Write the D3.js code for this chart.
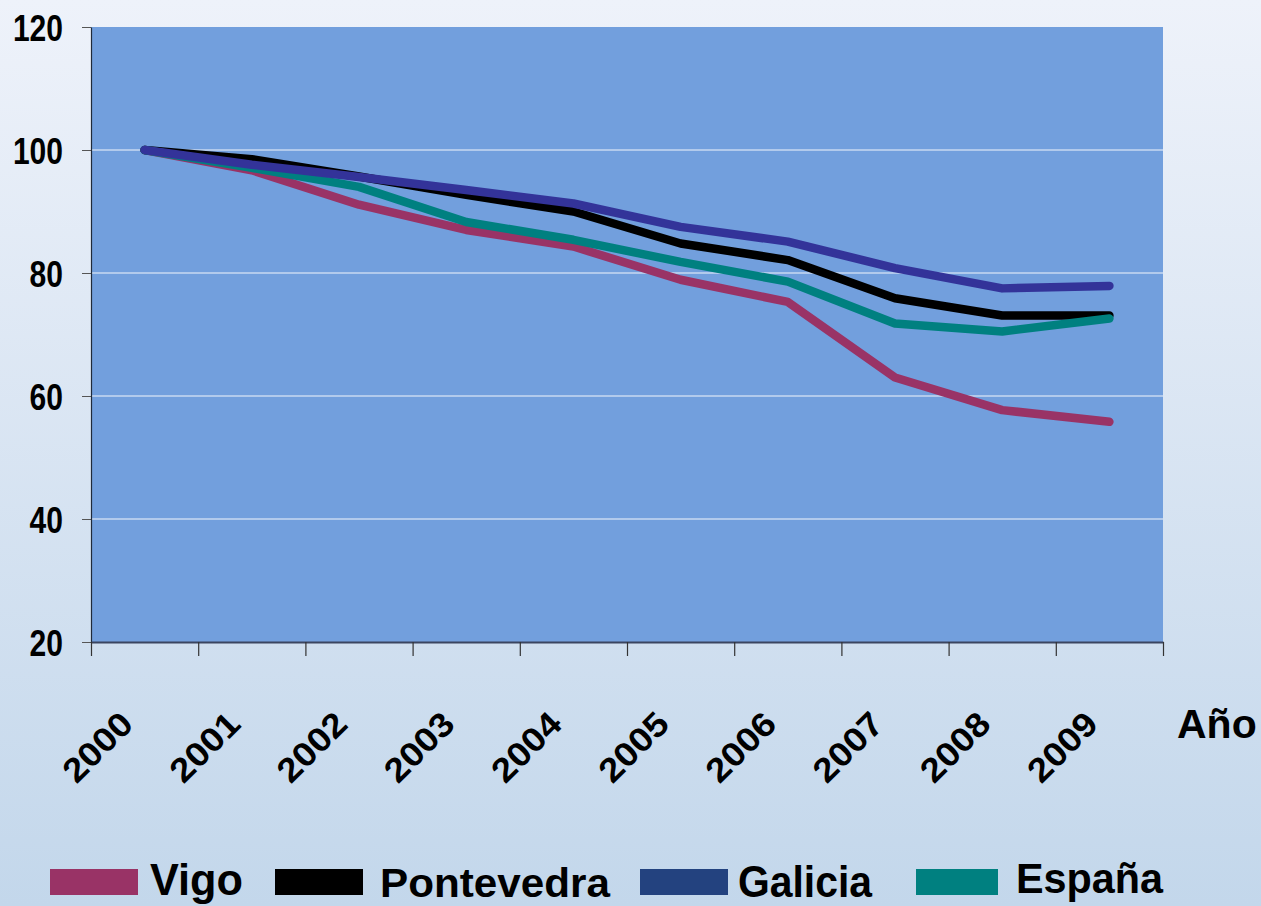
<!DOCTYPE html>
<html>
<head>
<meta charset="utf-8">
<script src="https://cdn.jsdelivr.net/npm/d3@7"></script>
<style>
  html, body { margin: 0; padding: 0; }
  body { width: 1261px; height: 906px; overflow: hidden; }
  svg { display: block; }
</style>
</head>
<body>
<svg id="chart" width="1261" height="906"></svg>
<script>
// ---- data ----
const years = ["2000","2001","2002","2003","2004","2005","2006","2007","2008","2009"];
const vigo       = [100, 96.7, 91.1, 87.0, 84.3, 78.9, 75.3, 63.0, 57.7, 55.8];
const pontevedra = [100, 98.5, 95.7, 92.7, 90.0, 84.8, 82.1, 75.9, 73.1, 73.1];
const galicia    = [100, 97.6, 95.6, 93.5, 91.3, 87.5, 85.1, 80.8, 77.5, 77.9];
const espana     = [100, 97.1, 94.0, 88.3, 85.4, 81.8, 78.6, 71.8, 70.5, 72.6];
const seriesNames = ["Vigo", "Pontevedra", "Galicia", "España"];
const yTicks = [20, 40, 60, 80, 100, 120];
const xAxisTitle = "Año";

// ---- layout ----
const svg = d3.select("#chart");
const W = 1261, H = 906;
const plot = { left: 91, right: 1163, top: 27, bottom: 642 };

const defs = svg.append("defs");
const grad = defs.append("linearGradient").attr("id", "bg").attr("x1", 0).attr("y1", 0).attr("x2", 0).attr("y2", 1);
grad.append("stop").attr("offset", "0%").attr("stop-color", "#EEF2FA");
grad.append("stop").attr("offset", "100%").attr("stop-color", "#C3D7EB");
svg.append("rect").attr("width", W).attr("height", H).attr("fill", "url(#bg)");

const x = d3.scaleBand().domain(years).range([plot.left, plot.right]).padding(0);
const xEdge = d3.scaleLinear().domain([0, years.length]).range([plot.left, plot.right]);
const y = d3.scaleLinear().domain([20, 120]).range([plot.bottom, plot.top]);

// plot area
svg.append("rect")
  .attr("x", plot.left).attr("y", plot.top)
  .attr("width", plot.right - plot.left).attr("height", plot.bottom - plot.top)
  .attr("fill", "#729FDD");

// gridlines
svg.append("g").selectAll("line")
  .data(yTicks.filter(d => d > 20 && d < 120))
  .join("line")
  .attr("x1", plot.left).attr("x2", plot.right)
  .attr("y1", d => y(d)).attr("y2", d => y(d))
  .attr("stroke", "#F2F5FB").attr("stroke-width", 1.2);

const narrow = "'Liberation Sans Narrow','Arial Narrow','Liberation Sans',Arial,sans-serif";
const normal = "'Liberation Sans',Arial,sans-serif";

// y axis
const yAxis = svg.append("g").attr("transform", `translate(${plot.left},0)`)
  .call(d3.axisLeft(y).tickValues(yTicks).tickSize(9).tickSizeOuter(0).tickPadding(19));
yAxis.select(".domain").attr("stroke", "#1f2a3a").attr("stroke-width", 1.2);
yAxis.selectAll(".tick line").attr("stroke", "#555");
yAxis.selectAll(".tick text")
  .attr("font-family", narrow).attr("font-weight", "bold").attr("font-size", 37)
  .attr("fill", "#000").attr("dy", "0.36em")
  .attr("textLength", d => String(d).length * 16.7)
  .attr("lengthAdjust", "spacingAndGlyphs");

// x axis (tick marks at category boundaries)
const xAxis = svg.append("g").attr("transform", `translate(0,${plot.bottom})`)
  .call(d3.axisBottom(xEdge).tickValues(d3.range(years.length + 1)).tickSize(14).tickSizeOuter(0).tickFormat(""));
xAxis.select(".domain").attr("stroke", "#3a4560").attr("stroke-width", 2);
xAxis.selectAll(".tick line").attr("stroke", "#333").attr("stroke-width", 1.2);

// x labels, rotated
svg.append("g").selectAll("text")
  .data(years)
  .join("text")
  .attr("transform", d => `translate(${x(d) + x.bandwidth() / 2 - 9.5},726) rotate(-45)`)
  .attr("text-anchor", "end")
  .attr("font-family", normal).attr("font-weight", "bold").attr("font-size", 34)
  .attr("textLength", 83).attr("lengthAdjust", "spacingAndGlyphs")
  .attr("fill", "#000")
  .text(d => d);

svg.append("text")
  .attr("x", 1177).attr("y", 738)
  .attr("font-family", normal).attr("font-weight", "bold").attr("font-size", 41)
  .attr("fill", "#000")
  .text(xAxisTitle);

// lines
const seriesData = [
  { name: seriesNames[0], values: vigo, color: "#993366" },
  { name: seriesNames[1], values: pontevedra, color: "#000000" },
  { name: seriesNames[3], values: espana, color: "#008080" },
  { name: seriesNames[2], values: galicia, color: "#333399" }
];
const line = d3.line()
  .x((d, i) => x(years[i]) + x.bandwidth() / 2)
  .y(d => y(d));
svg.append("g").selectAll("path")
  .data(seriesData)
  .join("path")
  .attr("d", d => line(d.values))
  .attr("fill", "none")
  .attr("stroke", d => d.color)
  .attr("stroke-width", 8.5)
  .attr("stroke-linecap", "round")
  .attr("stroke-linejoin", "round");

// legend
const legendItems = [
  { name: seriesNames[0], swatch: "#993366", sx: 50, sw: 88, tx: 150, size: 45, len: 93, base: 895 },
  { name: seriesNames[1], swatch: "#000000", sx: 275, sw: 88, tx: 380, size: 40, len: 230, base: 897 },
  { name: seriesNames[2], swatch: "#23427F", sx: 640, sw: 88, tx: 738, size: 44, len: 134, base: 897 },
  { name: seriesNames[3], swatch: "#008080", sx: 916, sw: 82, tx: 1016, size: 42, len: 147, base: 893 }
];
const lg = svg.append("g");
lg.selectAll("rect").data(legendItems).join("rect")
  .attr("x", d => d.sx).attr("y", 869).attr("width", d => d.sw).attr("height", 26)
  .attr("fill", d => d.swatch);
lg.selectAll("text").data(legendItems).join("text")
  .attr("x", d => d.tx).attr("y", d => d.base)
  .attr("font-family", narrow).attr("font-weight", "bold")
  .attr("font-size", d => d.size)
  .attr("textLength", d => d.len).attr("lengthAdjust", "spacingAndGlyphs")
  .attr("fill", "#000")
  .text(d => d.name);
</script>
</body>
</html>
